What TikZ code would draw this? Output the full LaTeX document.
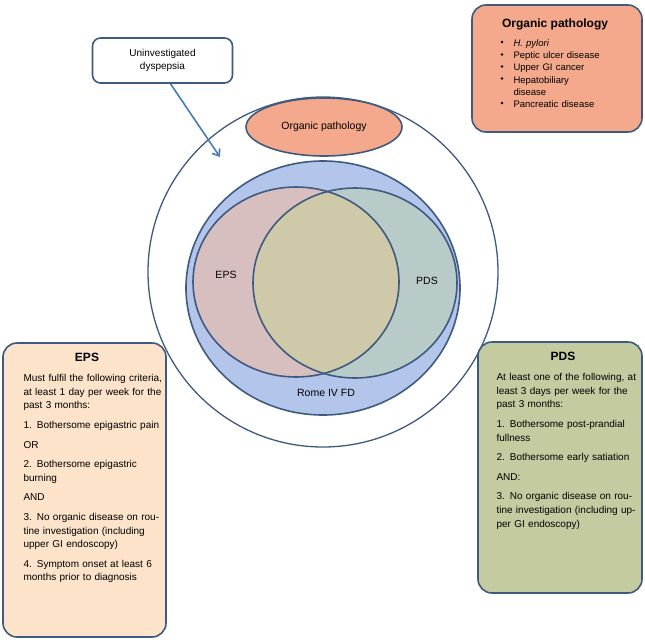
\documentclass[tikz,border=0pt]{standalone}
\usetikzlibrary{shapes.geometric,arrows.meta}
\usepackage{fontspec}
\setmainfont{Liberation Sans}
\begin{document}
\begin{tikzpicture}[x=1pt,y=-1pt,
  edge/.style={draw=bord,line width=1.6pt},
  box/.style={edge,rounded corners=14pt,inner sep=0pt},
  body/.style={font=\fontsize{10}{13.6}\selectfont,align=left,text width=#1},
  lab/.style={font=\fontsize{10.5}{12}\selectfont}]
\definecolor{bord}{HTML}{3E5A7E}
\definecolor{blu}{HTML}{B3C5EA}
\definecolor{org}{HTML}{F4A98C}
\definecolor{epsb}{HTML}{FCE3CA}
\definecolor{pdsb}{HTML}{C5CBA1}
\definecolor{epsr}{HTML}{D7BFC0}
\definecolor{pdsr}{HTML}{B9CBC8}
\definecolor{mid}{HTML}{CEC9A8}
\definecolor{arr}{HTML}{4A7BB5}
\useasboundingbox (0,0) rectangle (645,643);
% outer circle
\node[edge,circle,minimum size=350pt,line width=1.3pt] (outer) at (323,272) {};
% blue ellipse
\node[edge,ellipse,fill=blu,minimum width=274pt,minimum height=254pt] (rome) at (323,288) {};
\fill[epsr] (296,282) ellipse[x radius=103,y radius=95];
\fill[pdsr] (355,283) ellipse[x radius=102,y radius=95];
\begin{scope}
\clip (296,282) ellipse[x radius=103,y radius=95];
\fill[mid] (355,283) ellipse[x radius=102,y radius=95];
\end{scope}
\node[edge,ellipse,minimum width=206pt,minimum height=190pt] (epsE) at (296,282) {};
\node[edge,ellipse,minimum width=204pt,minimum height=190pt] (pdsE) at (355,283) {};
\node[lab] (epsl) at (226,275) {EPS};
\node[lab] (pdsl) at (427,281) {PDS};
\node[lab] (romel) at (326,393) {Rome IV FD};
% organic ellipse
\node[edge,ellipse,fill=org,minimum width=156pt,minimum height=58pt,lab] (orgE) at (324,127) {Organic pathology};
% uninvestigated
\node[box,rounded corners=8pt,fill=white,minimum width=140pt,minimum height=45pt,align=center,font=\fontsize{10}{12.5}\selectfont] (un) at (162.5,60.5) {Uninvestigated\\dyspepsia};
\coordinate (tip) at (220,157);
\draw[arr,line width=1.6pt,-{Straight Barb[length=6pt,width=9pt]}] (un.south) ++(8,0) -- (tip);
% organic box
\node[box,fill=org,minimum width=170pt,minimum height=127pt] (orgB) at (557,68.5) {};
\node[font=\bfseries\fontsize{12}{14}\selectfont] (orgT) at (555,24) {Organic pathology};
\node[anchor=north west,body=120pt,font=\fontsize{9.5}{12.2}\selectfont] (orgL) at (510,36) {%
\textit{H. pylori}\\Peptic ulcer disease\\Upper GI cancer\\Hepatobiliary\\disease\\Pancreatic disease};
\foreach \yy in {42,54.5,66.5,78.5,103}{\fill (502,\yy) circle (1.4pt);}
% EPS box
\node[box,fill=epsb,minimum width=163pt,minimum height=294pt] (epsB) at (84.5,490) {};
\node[font=\bfseries\fontsize{12}{14}\selectfont] (epsT) at (87,357) {EPS};
\node[anchor=north west,body=140pt] (epsL) at (20,371) {Must fulfil the following criteria, at least 1 day per week for the past 3 months:\\[6pt]
1. Bothersome epigastric pain\\[6pt] OR\\[6pt] 2. Bothersome epigastric burning\\[6pt] AND\\[6pt]
3. No organic disease on routine investigation (including upper GI endoscopy)\\[6pt]
4. Symptom onset at least 6 months prior to diagnosis};
% PDS box
\node[box,fill=pdsb,minimum width=164pt,minimum height=251pt] (pdsB) at (560,467.5) {};
\node[font=\bfseries\fontsize{12}{14}\selectfont] (pdsT) at (563,356) {PDS};
\node[anchor=north west,body=145pt] (pdsL) at (493,370) {At least one of the following, at least 3 days per week for the past 3 months:\\[6pt]
1. Bothersome post-prandial fullness\\[6pt] 2. Bothersome early satiation\\[6pt] AND:\\[6pt]
3. No organic disease on routine investigation (including upper GI endoscopy)};
\end{tikzpicture}
\end{document}
